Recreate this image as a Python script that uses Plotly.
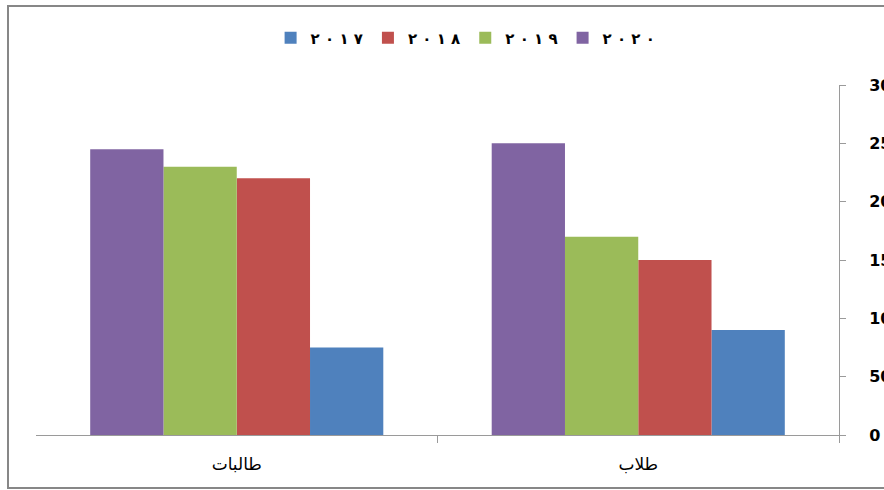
import plotly.graph_objects as go

categories = ["طلاب", "طالبات"]
years = ["٢٠١٧", "٢٠١٨", "٢٠١٩", "٢٠٢٠"]
values_2017 = [90, 75]
values_2018 = [150, 220]
values_2019 = [170, 230]
values_2020 = [250, 245]
series = [values_2017, values_2018, values_2019, values_2020]
colors = ["#4F81BD", "#C0504D", "#9BBB59", "#8064A2"]
y_ticks = [0, 50, 100, 150, 200, 250, 300]

fig = go.Figure()
for name, vals, col in zip(years, series, colors):
    label = "\u200e ".join(name)  # keep digit order, spaced like the original
    fig.add_trace(go.Bar(x=categories, y=vals, name=label, marker_color=col,
                         marker_line_width=0))

W, H = 884, 490
ml, mr, mt, mb = 36, 45, 85, 55
pw, ph = W - ml - mr, H - mt - mb

def px_to_paper_x(px):
    return (px - ml) / pw

def px_to_paper_y(py):
    return (H - mb - py) / ph

fig.add_shape(type="rect", xref="paper", yref="paper",
              x0=px_to_paper_x(8), x1=px_to_paper_x(900),
              y0=px_to_paper_y(488), y1=px_to_paper_y(6),
              line=dict(color="#878787", width=2), fillcolor="rgba(0,0,0,0)",
              layer="below")

fig.update_layout(
    width=W, height=H,
    margin=dict(l=ml, r=mr, t=mt, b=mb, autoexpand=False),
    paper_bgcolor="white", plot_bgcolor="white",
    barmode="group", bargap=0.27, bargroupgap=0,
    font=dict(family="DejaVu Sans", color="black"),
    legend=dict(orientation="h", x=0.535, xanchor="center", y=px_to_paper_y(38), yanchor="middle",
                font=dict(size=15, family="DejaVu Sans", color="black", weight="bold"),
                bgcolor="rgba(0,0,0,0)", itemwidth=30, traceorder="normal"),
    xaxis=dict(autorange="reversed", showline=True, linecolor="#9a9a9a", linewidth=1,
               ticks="outside", tickson="boundaries", tickcolor="#9a9a9a", ticklen=7,
               tickangle=0, automargin=False, ticklabelstandoff=14,
               tickfont=dict(size=17, family="DejaVu Sans", color="black"),
               showgrid=False),
    yaxis=dict(side="right", range=[0, 300], tickvals=y_ticks,
               showline=True, linecolor="#9a9a9a", linewidth=1,
               ticks="outside", tickcolor="#9a9a9a", ticklen=6, automargin=False,
               tickfont=dict(size=16, family="DejaVu Sans", color="black", weight="bold"),
               ticklabelstandoff=20,
               showgrid=False, zeroline=False),
)

fig.write_html("out.html", config={"displayModeBar": False},
               post_script="document.body.style.margin='0';document.body.style.overflow='hidden';")
